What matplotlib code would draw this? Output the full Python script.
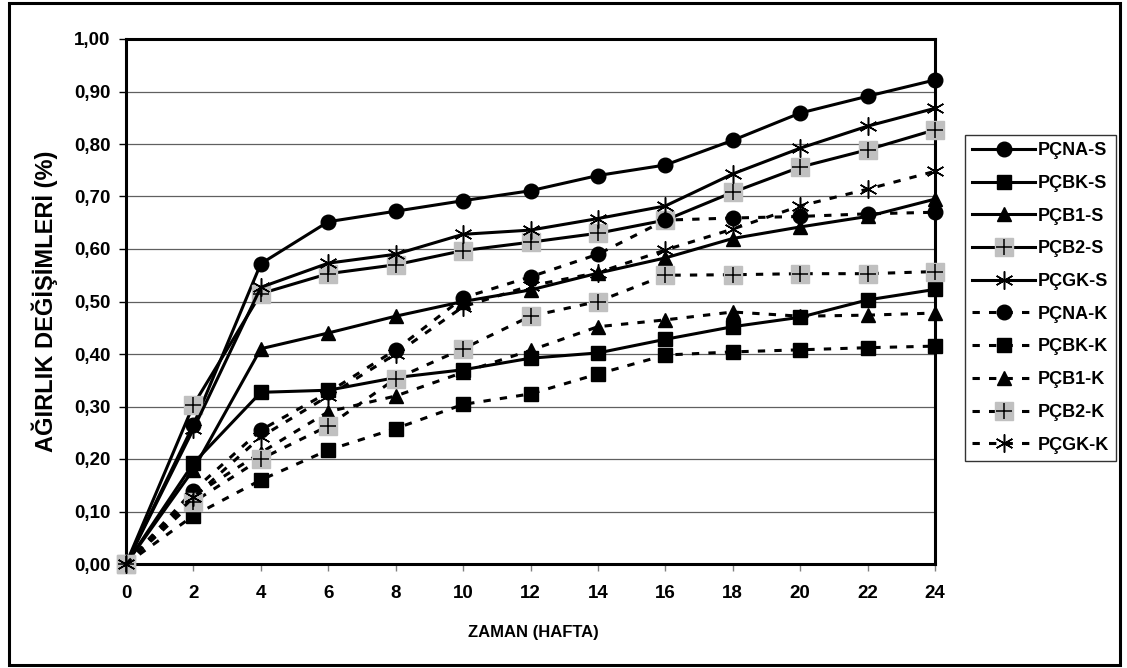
import numpy as np
import matplotlib
matplotlib.use("Agg")
import matplotlib.pyplot as plt
from matplotlib.legend_handler import HandlerTuple
from matplotlib.patches import Rectangle
from matplotlib.ticker import FuncFormatter

plt.rcParams['font.family'] = ['Liberation Sans', 'DejaVu Sans']
plt.rcParams['font.weight'] = 'bold'

# Zaman (hafta)
weeks = [0, 2, 4, 6, 8, 10, 12, 14, 16, 18, 20, 22, 24]

# S serileri
pcna_s = [0, 0.265, 0.572, 0.652, 0.672, 0.692, 0.711, 0.740, 0.760, 0.807, 0.859, 0.891, 0.922]
pcbk_s = [0, 0.192, 0.327, 0.331, 0.355, 0.370, 0.392, 0.402, 0.428, 0.452, 0.470, 0.503, 0.523]
pcb1_s = [0, 0.180, 0.410, 0.440, 0.472, 0.500, 0.522, 0.554, 0.583, 0.620, 0.642, 0.662, 0.695]
pcb2_s = [0, 0.303, 0.515, 0.553, 0.570, 0.597, 0.613, 0.630, 0.655, 0.708, 0.756, 0.789, 0.827]
pcgk_s = [0, 0.257, 0.527, 0.573, 0.590, 0.628, 0.636, 0.658, 0.682, 0.743, 0.792, 0.834, 0.868]

# K serileri
pcna_k = [0, 0.140, 0.255, 0.327, 0.408, 0.507, 0.547, 0.590, 0.655, 0.659, 0.662, 0.667, 0.670]
pcbk_k = [0, 0.092, 0.160, 0.217, 0.258, 0.304, 0.324, 0.362, 0.398, 0.404, 0.408, 0.412, 0.415]
pcb1_k = [0, 0.130, 0.212, 0.290, 0.320, 0.365, 0.407, 0.452, 0.465, 0.480, 0.472, 0.474, 0.478]
pcb2_k = [0, 0.118, 0.200, 0.263, 0.353, 0.410, 0.472, 0.500, 0.550, 0.551, 0.553, 0.553, 0.557]
pcgk_k = [0, 0.127, 0.242, 0.320, 0.400, 0.490, 0.530, 0.555, 0.598, 0.638, 0.682, 0.714, 0.748]

labels = ['PÇNA-S', 'PÇBK-S', 'PÇB1-S', 'PÇB2-S', 'PÇGK-S',
          'PÇNA-K', 'PÇBK-K', 'PÇB1-K', 'PÇB2-K', 'PÇGK-K']
series = [pcna_s, pcbk_s, pcb1_s, pcb2_s, pcgk_s,
          pcna_k, pcbk_k, pcb1_k, pcb2_k, pcgk_k]
kinds = ['o', 's', '^', 'plus', 'star'] * 2

W, H = 1127, 668
fig = plt.figure(figsize=(W / 100, H / 100), dpi=100)
ax = fig.add_axes([126 / W, 1 - 564 / H, (935 - 126) / W, (564 - 39) / H])

lw = 2.2
handles = []
for i, (ys, lab, kind) in enumerate(zip(series, labels, kinds)):
    dashed = i >= 5
    style = dict(color='black', lw=lw, clip_on=False, zorder=3 + i)
    if dashed:
        style['dashes'] = (2.4, 3.0)
    if kind == 'plus':
        l1, = ax.plot(weeks, ys, marker='s', ms=13, mfc='#c0c0c0', mec='#c0c0c0', **style)
        l2, = ax.plot(weeks, ys, ls='none', marker='+', ms=12, mew=1.1, color='black',
                      clip_on=False, zorder=3 + i)
        handles.append((l1, l2))
    elif kind == 'star':
        l1, = ax.plot(weeks, ys, marker=(6, 2, 0), ms=13, mew=1.1, mec='black', **style)
        handles.append(l1)
    else:
        ms = {'o': 10.5, 's': 10, '^': 10.5}[kind]
        l1, = ax.plot(weeks, ys, marker=kind, ms=ms, mfc='black', mec='black', **style)
        handles.append(l1)

ax.set_xlim(0, 24)
ax.set_ylim(0, 1.0)
ax.set_xticks(weeks)
ax.set_yticks(np.arange(0, 1.01, 0.1))
ax.yaxis.set_major_formatter(FuncFormatter(lambda v, p: f"{v:.2f}".replace('.', ',')))
ax.yaxis.grid(True, color='#606060', lw=0.9)
ax.set_axisbelow(True)
for s in ax.spines.values():
    s.set_linewidth(2.2)
    s.set_color('black')
ax.tick_params(axis='y', direction='out', length=5, width=1, pad=6, labelsize=13.5)
ax.tick_params(axis='x', direction='out', length=5, width=1, color='#808080', pad=10, labelsize=13.5)

fig.text(45 / W, 1 - 301 / H, 'AĞIRLIK DEĞİŞİMLERİ (%)', rotation=90,
         ha='center', va='center', fontsize=17, fontweight='bold')
fig.text(533 / W, 1 - 632 / H, 'ZAMAN (HAFTA)', ha='center', va='center',
         fontsize=12, fontweight='bold')

leg = fig.legend(handles, labels, loc='upper left', bbox_to_anchor=(965 / W, 1 - 135 / H),
                 handler_map={tuple: HandlerTuple(ndivide=1)}, fontsize=13,
                 frameon=True, fancybox=False, edgecolor='black', borderpad=0.4,
                 labelspacing=0.87, handlelength=3.5, handletextpad=0.12,
                 borderaxespad=0)
leg.get_frame().set_linewidth(1)

fig.patches.append(Rectangle((9 / W, 3 / H), (1120 - 9) / W, (665 - 3) / H,
                             transform=fig.transFigure, fill=False, lw=2.2,
                             edgecolor='black'))

fig.savefig('out.png', dpi=100)
